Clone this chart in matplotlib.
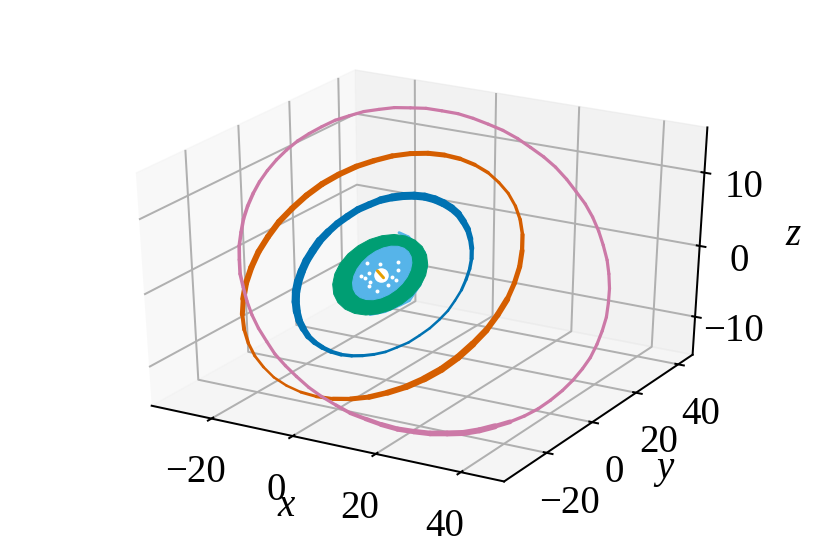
import matplotlib
matplotlib.use('agg')
import matplotlib.pyplot as plt
import numpy as np
from mpl_toolkits.mplot3d import proj3d
from mpl_toolkits.mplot3d.art3d import Line3DCollection, Poly3DCollection

# orbit points
pink_x = [50.2, 48.4, 46.4, 43.9, 41.3, 38.4, 35.3, 31.8, 28.4, 24.6, 20.8, 16.8, 12.9, 8.7, 4.7, 0.6, -3.3, -7.3,
          -11.1, -14.7, -18.3, -21.6, -24.7, -27.5, -30.1, -32.4, -34.4, -36, -37.4, -38.4, -39.1, -39.4, -39.3, -38.9, -38.2, -37,
          -35.6, -33.8, -31.8, -29.3, -26.7, -23.8, -20.7, -17.2, -13.8, -10, -6.2, -2.2, 1.7, 5.9, 9.9, 14, 17.9, 21.9,
          25.7, 29.3, 32.9, 36.2, 39.3, 42.1, 44.7, 47, 49, 50.6, 52, 53, 53.7, 54, 53.9, 53.5, 52.8, 51.6]
pink_y = [4.9, 7.9, 10.8, 13.7, 16.5, 19.2, 21.7, 24.1, 26.3, 28.4, 30.2, 31.8, 33.2, 34.4, 35.3, 36, 36.4, 36.5,
          36.4, 36, 35.4, 34.5, 33.4, 32, 30.4, 28.6, 26.6, 24.4, 22, 19.5, 16.8, 14, 11.2, 8.2, 5.3, 2.3,
          -0.8, -3.7, -6.7, -9.5, -12.3, -15, -17.5, -19.9, -22.2, -24.2, -26, -27.7, -29.1, -30.2, -31.2, -31.8, -32.2, -32.4,
          -32.3, -31.9, -31.2, -30.4, -29.2, -27.8, -26.2, -24.4, -22.4, -20.2, -17.8, -15.3, -12.6, -9.9, -7, -4.1, -1.1, 1.9]
pink_z = [2, 3.2, 4.3, 5.5, 6.6, 7.7, 8.7, 9.6, 10.5, 11.4, 12.1, 12.7, 13.3, 13.8, 14.1, 14.4, 14.6, 14.6,
          14.6, 14.4, 14.2, 13.8, 13.4, 12.8, 12.2, 11.4, 10.6, 9.8, 8.8, 7.8, 6.7, 5.6, 4.5, 3.3, 2.1, 0.9,
          -0.3, -1.5, -2.7, -3.8, -4.9, -6, -7, -8, -8.9, -9.7, -10.4, -11.1, -11.6, -12.1, -12.5, -12.7, -12.9, -13,
          -12.9, -12.8, -12.5, -12.2, -11.7, -11.1, -10.5, -9.8, -9, -8.1, -7.1, -6.1, -5, -4, -2.8, -1.6, -0.4, 0.8]

orange_x = [29.9, 29.6, 28.9, 27.6, 25.9, 23.7, 21.1, 18.1, 14.8, 11.3, 7.5, 3.6, -0.3, -4.2, -8.1, -11.9, -15.4, -18.7, -21.7, -24.3, -26.5, -28.2, -29.5, -30.2,
            -30.5, -30.2, -29.5, -28.2, -26.5, -24.3, -21.7, -18.7, -15.4, -11.9, -8.1, -4.2, -0.3, 3.6, 7.5, 11.3, 14.8, 18.1, 21.1, 23.7, 25.9, 27.6, 28.9, 29.6]
orange_y = [-1.2, 2.3, 5.7, 9, 12.2, 15.1, 17.7, 20, 21.9, 23.5, 24.6, 25.3, 25.5, 25.3, 24.6, 23.5, 21.9, 20, 17.7, 15.1, 12.2, 9, 5.7, 2.3,
            -1.2, -4.7, -8.1, -11.4, -14.6, -17.5, -20.1, -22.4, -24.3, -25.9, -27, -27.7, -27.9, -27.7, -27, -25.9, -24.3, -22.4, -20.1, -17.5, -14.6, -11.4, -8.1, -4.7]
orange_z = [-0.5, 1, 2.5, 3.9, 5.3, 6.6, 7.7, 8.7, 9.5, 10.2, 10.7, 11, 11.1, 11, 10.7, 10.2, 9.5, 8.7, 7.7, 6.6, 5.3, 3.9, 2.5, 1,
            -0.5, -2, -3.5, -4.9, -6.3, -7.6, -8.7, -9.7, -10.5, -11.2, -11.7, -12, -12.1, -12, -11.7, -11.2, -10.5, -9.7, -8.7, -7.6, -6.3, -4.9, -3.5, -2]

blue_x = [19, 18.8, 18.4, 17.6, 16.5, 15.1, 13.5, 11.6, 9.6, 7.4, 5.1, 2.7, 0.2, -2.3, -4.7, -7, -9.2, -11.2, -13.1, -14.7, -16.1, -17.2, -18, -18.4,
          -18.6, -18.4, -18, -17.2, -16.1, -14.7, -13.1, -11.2, -9.2, -7, -4.7, -2.3, 0.2, 2.7, 5.1, 7.4, 9.6, 11.6, 13.5, 15.1, 16.5, 17.6, 18.4, 18.8]
blue_y = [-1.1, 1.2, 3.4, 5.6, 7.6, 9.5, 11.2, 12.7, 14, 15, 15.7, 16.2, 16.3, 16.2, 15.7, 15, 14, 12.7, 11.2, 9.5, 7.6, 5.6, 3.4, 1.2,
          -1.1, -3.4, -5.6, -7.8, -9.8, -11.7, -13.4, -14.9, -16.2, -17.2, -17.9, -18.4, -18.5, -18.4, -17.9, -17.2, -16.2, -14.9, -13.4, -11.7, -9.8, -7.8, -5.6, -3.4]
blue_z = [-0.5, 0.5, 1.5, 2.4, 3.3, 4.1, 4.9, 5.5, 6.1, 6.5, 6.8, 7, 7.1, 7, 6.8, 6.5, 6.1, 5.5, 4.9, 4.1, 3.3, 2.4, 1.5, 0.5,
          -0.5, -1.5, -2.5, -3.4, -4.3, -5.1, -5.9, -6.5, -7.1, -7.5, -7.8, -8, -8.1, -8, -7.8, -7.5, -7.1, -6.5, -5.9, -5.1, -4.3, -3.4, -2.5, -1.5]

# green and light blue loops are packed solid, so only their outlines are kept
green_x = [8.52, 7.07, 5.08, 2.71, 0.1, -2.56, -5.1, -7.34, -9.12, -10.33, -10.88, -10.75,
           -9.92, -8.47, -6.48, -4.11, -1.5, 1.16, 3.7, 5.94, 7.72, 8.93, 9.48, 9.35]
green_y = [2.94, 4.96, 6.58, 7.67, 8.17, 8.05, 7.3, 5.99, 4.19, 2.05, -0.32, -2.72,
           -5.02, -7.04, -8.66, -9.75, -10.25, -10.13, -9.38, -8.07, -6.27, -4.13, -1.76, 0.64]
green_z = [1.15, 1.97, 2.61, 3.04, 3.25, 3.2, 2.9, 2.38, 1.65, 0.8, -0.15, -1.11,
           -2.03, -2.85, -3.49, -3.92, -4.13, -4.08, -3.78, -3.26, -2.53, -1.68, -0.73, 0.23]

sky_x = [4.84, 3.93, 2.72, 1.3, -0.24, -1.8, -3.27, -4.54, -5.54, -6.18, -6.44, -6.29,
         -5.74, -4.83, -3.62, -2.2, -0.66, 0.9, 2.37, 3.64, 4.64, 5.28, 5.54, 5.39]
sky_y = [2.7, 3.97, 4.93, 5.52, 5.68, 5.42, 4.75, 3.72, 2.38, 0.86, -0.77, -2.39,
         -3.88, -5.15, -6.11, -6.7, -6.86, -6.6, -5.93, -4.9, -3.56, -2.04, -0.41, 1.21]
sky_z = [1.06, 1.57, 1.95, 2.18, 2.25, 2.15, 1.88, 1.47, 0.93, 0.32, -0.33, -0.99,
         -1.58, -2.09, -2.47, -2.7, -2.77, -2.67, -2.4, -1.99, -1.45, -0.84, -0.19, 0.47]

# light blue bits that stick out past the green ring
sky_out_x = [-1.5, 1.1, 6.5, 8.7, 9.4, 9, 7.6, 5.1, 2.2]
sky_out_y = [8.5, 7.9, 5.3, 2.2, -1.6, -5.4, -6.6, -8.7, -9.9]
sky_out_z = [3.4, 3.2, 2.1, 0.9, -0.7, -2.2, -2.7, -3.5, -4]

# gaps between the light blue loops
gap_x = [-4.9, -1.8, 1.8, 2.9, -3.1, -4.6, -3.4, -1.9, -1.5, 2.6, 0.9, 2.4, 3.7]
gap_y = [0.8, 1.1, 2.2, 0.5, -1.2, -2.1, -2.5, -3.1, -3.9, -3, -4.7, -1.3, -1.8]
gap_z = [0.3, 0.4, 0.9, 0.2, -0.5, -0.9, -1, -1.3, -1.6, -1.2, -1.9, -0.5, -0.7]

centre_x = [-0.3]
centre_y = [-1.2]
centre_z = [-0.5]

inner_x = [-1.6, 0.6]
inner_y = [-0.4, -1.6]
inner_z = [-0.2, -0.7]

x_ticks = [-20, 0, 20, 40]
y_ticks = [-20, 0, 20, 40]
z_ticks = [-10, 0, 10]
x_labels = ['\u221220', '0', '20', '40']
y_labels = ['\u221220', '0', '20', '40']

# line widths in pixels, evenly spaced along each loop
pink_w = [3.2] * 16 + [3.6] * 4 + [3.2] * 5 + [4, 5, 5.5, 6, 6, 3.3] + [3.2] * 5
orange_w = [5, 5, 3.5, 3, 3, 4, 5, 5, 5.5, 6, 6, 6, 6, 6, 4, 3, 2.5, 2.5, 3.5, 5, 6, 7, 7, 6]
blue_w = [3, 3.5, 5, 6.5, 7.5, 8, 8, 8, 7, 7, 7, 8, 8, 8.5, 8, 7, 5.5, 4.5, 3.5, 3, 2.5, 2.5, 2.5, 2.5]

DPI = 100
PX = 72 / DPI

plt.rcParams['font.family'] = ['Liberation Serif', 'DejaVu Serif']
plt.rcParams['font.size'] = 28
plt.rcParams['axes.linewidth'] = 2 * PX
plt.rcParams['xtick.major.width'] = 2 * PX
plt.rcParams['ytick.major.width'] = 2 * PX
plt.rcParams['grid.linewidth'] = 2 * PX
plt.rcParams['grid.color'] = '#b0b0b0'


def draw_loop(ax, x, y, z, widths, color, zorder, closed=True):
    pts = list(zip(x, y, z))
    if closed:
        pts.append(pts[0])
    segs = [[pts[i], pts[i+1]] for i in range(len(pts)-1)]
    lw = np.interp(np.arange(len(segs)) / len(segs), np.arange(len(widths)) / len(widths), widths) * PX
    lc = Line3DCollection(segs, colors=color, linewidths=lw, capstyle='round', zorder=zorder)
    ax.add_collection3d(lc)


def draw_solid(ax, x, y, z, color, zorder):
    poly = Poly3DCollection([list(zip(x, y, z))], facecolors=color, edgecolors=color, linewidths=PX, zorder=zorder)
    ax.add_collection3d(poly)


def tick_text(ax, x, y, z, text, dx, dy):
    # tick labels sit further off the ticks than the pad can put them
    px, py, _ = proj3d.proj_transform(x, y, z, ax.get_proj())
    ax.annotate(text, (px, py), xytext=(dx * PX, -dy * PX), textcoords='offset points',
                ha='center', va='center', annotation_clip=False)


fig = plt.figure(figsize=(8.31, 5.52), dpi=DPI)
ax = fig.add_subplot(projection='3d')
ax.computed_zorder = False
ax.set_box_aspect((1, 1, 1))
ax.set_position([0.0909, 0.0996, 0.823, 0.808])
# box is stretched with the figure, not kept square
ax.apply_aspect = lambda position=None: None

draw_loop(ax, sky_out_x, sky_out_y, sky_out_z, [3], '#56B4E9', 2, closed=False)
draw_solid(ax, green_x, green_y, green_z, '#009E73', 3)
draw_solid(ax, sky_x, sky_y, sky_z, '#56B4E9', 4)
ax.scatter(gap_x, gap_y, gap_z, s=8, c='white', linewidths=0, depthshade=False, zorder=5)
ax.scatter(centre_x, centre_y, centre_z, s=110, c='white', linewidths=0, depthshade=False, zorder=5)
draw_loop(ax, inner_x, inner_y, inner_z, [3], '#E69F00', 6, closed=False)
draw_loop(ax, blue_x, blue_y, blue_z, blue_w, '#0072B2', 7)
draw_loop(ax, orange_x, orange_y, orange_z, orange_w, '#D55E00', 8)
draw_loop(ax, pink_x, pink_y, pink_z, pink_w, '#CC79A7', 9)

ax.set_xlim(-35, 50)
ax.set_ylim(-38, 47)
ax.set_zlim(-15.5, 16)
ax.set_xticks(x_ticks)
ax.set_yticks(y_ticks)
ax.set_zticks(z_ticks)
ax.set_xticklabels([''] * len(x_ticks))
ax.set_yticklabels([''] * len(y_ticks))
ax.set_xlabel('x', fontstyle='italic', labelpad=17)
ax.set_ylabel('y', fontstyle='italic', labelpad=17)
ax.set_zlabel('z', fontstyle='italic', labelpad=16)
ax.tick_params(axis='z', pad=7.5)

for t, s in zip(x_ticks, x_labels):
    tick_text(ax, t, -38 - 85 / 48, -15.5 - 31.5 / 48, s, -12, 47)
for t, s in zip(y_ticks, y_labels):
    tick_text(ax, 50 + 85 / 48, t, -15.5 - 31.5 / 48, s, 15, 44)

fig.savefig('out.png', dpi=DPI)
